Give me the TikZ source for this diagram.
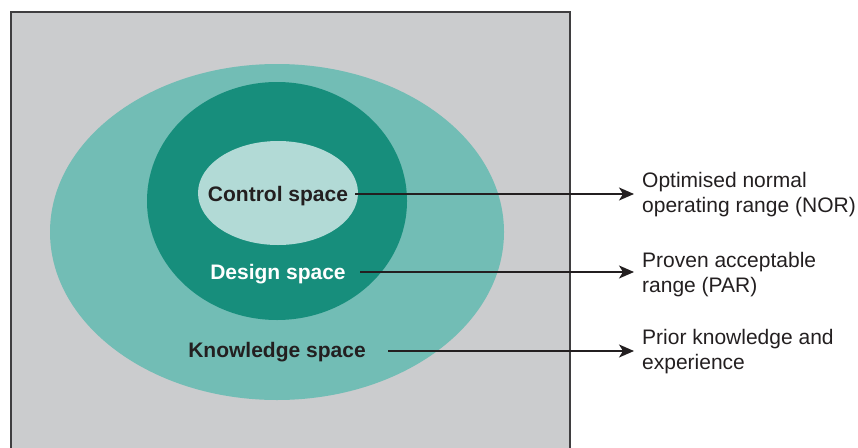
\documentclass[tikz,border=0pt]{standalone}
\usepackage{fontspec}
\setmainfont{Liberation Sans}
\usetikzlibrary{arrows.meta,shapes.geometric}
\definecolor{bggray}{HTML}{CBCCCE}
\definecolor{frame}{HTML}{3F3E40}
\definecolor{outerc}{HTML}{72BDB5}
\definecolor{midc}{HTML}{178E7C}
\definecolor{innerc}{HTML}{B2DAD6}
\definecolor{txt}{HTML}{231F20}
\tikzset{
  zone/.style={ellipse,draw=none,inner sep=0pt},
  spacelbl/.style={font=\fontsize{21}{25}\selectfont\bfseries,inner sep=0pt},
  rangelbl/.style={font=\fontsize{21}{25}\selectfont,text=txt,align=left,anchor=west,inner sep=0pt},
  conn/.style={draw=txt,line width=1.5pt,-{Stealth[length=15pt,width=13pt,inset=4pt]},shorten >=8pt},
}
\begin{document}
\begin{tikzpicture}[x=1pt,y=-1pt]
\useasboundingbox (0,0) rectangle (858,447);
\fill[bggray] (11,12) rectangle (570,460);
\draw[frame,line width=2pt] (11,460) -- (11,12) -- (570,12) -- (570,460);
\node[zone,fill=outerc,minimum width=454pt,minimum height=336pt] (outer) at (277,232) {};
\node[zone,fill=midc,minimum width=260pt,minimum height=238pt] (mid) at (277,201) {};
\node[zone,fill=innerc,minimum width=160pt,minimum height=104pt] (inner) at (278,193) {};
\node[spacelbl,text=txt] (ctl) at (278,196) {Control space};
\node[spacelbl,text=white] (des) at (278,274) {Design space};
\node[spacelbl,text=txt] (kno) at (277,352) {Knowledge space};
\node[rangelbl] (nor) at (642,195) {Optimised normal\\operating range (NOR)};
\node[rangelbl] (par) at (642,275) {Proven acceptable\\range (PAR)};
\node[rangelbl] (pri) at (642,352) {Prior knowledge and\\experience};
\coordinate (c1) at (355,194);
\coordinate (c2) at (360,272);
\coordinate (c3) at (388,351);
\draw[conn] (c1) -- (c1 -| nor.west);
\draw[conn] (c2) -- (c2 -| par.west);
\draw[conn] (c3) -- (c3 -| pri.west);
\end{tikzpicture}
\end{document}
